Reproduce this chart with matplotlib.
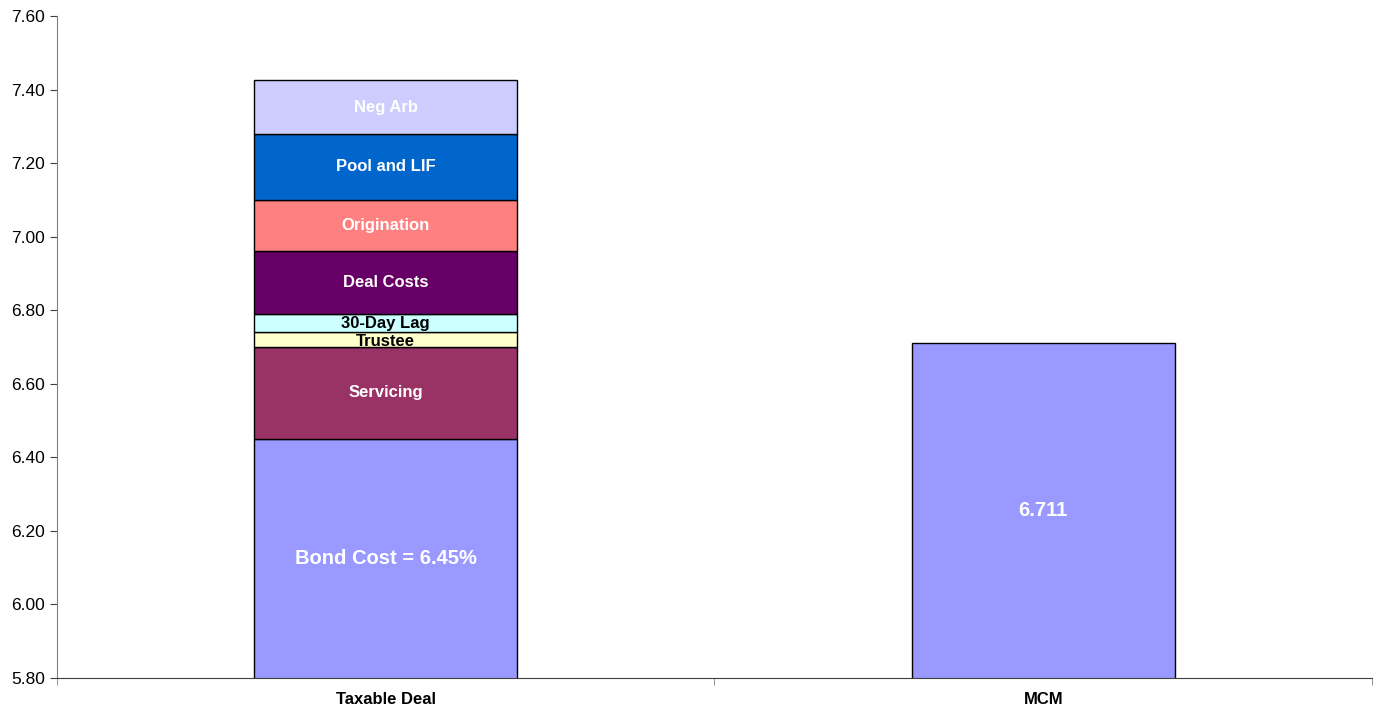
import numpy as np
import matplotlib.pyplot as plt

plt.rcParams['font.family'] = ['Liberation Sans', 'DejaVu Sans']

categories = ["Taxable Deal", "MCM"]

# stacked components of the taxable deal (percent)
seg_names = ["Bond Cost = 6.45%", "Servicing", "Trustee", "30-Day Lag",
             "Deal Costs", "Origination", "Pool and LIF", "Neg Arb"]
seg_values = [6.45, 0.25, 0.04, 0.05, 0.17, 0.14, 0.18, 0.145]
seg_colors = ["#9999FF", "#993366", "#FFFFCC", "#CCFFFF",
              "#660066", "#FF8080", "#0066CC", "#CCCCFF"]
seg_text = ["white", "white", "black", "black",
            "white", "white", "white", "white"]

mcm_value = 6.711
mcm_label = "6.711"

ymin, ymax = 5.80, 7.60

fig = plt.figure(figsize=(13.8, 7.15), dpi=100)
ax = fig.add_axes([0.0413, 0.0517, 0.9529, 0.9259])

width = 0.4
bottom = 0.0
for name, val, col, tc in zip(seg_names, seg_values, seg_colors, seg_text):
    ax.bar(0, val, width, bottom=bottom, color=col, edgecolor="black", linewidth=1.0)
    lo = max(bottom, ymin)
    hi = bottom + val
    ymid = (lo + hi) / 2
    fs = 14.5 if name.startswith("Bond") else 12
    if name == "Trustee":
        ymid -= 0.004
    ax.text(0, ymid, name, ha="center", va="center", color=tc,
            fontsize=fs, fontweight="bold")
    bottom += val

ax.bar(1, mcm_value, width, color="#9999FF", edgecolor="black", linewidth=1.0)
ax.text(1, (ymin + mcm_value) / 2, mcm_label, ha="center", va="center",
        color="white", fontsize=14.5, fontweight="bold")

ax.set_xlim(-0.5, 1.5)
ax.set_ylim(ymin, ymax)
ax.set_yticks(np.arange(5.80, 7.61, 0.20))
ax.set_yticklabels([f"{v:.2f}" for v in np.arange(5.80, 7.61, 0.20)], fontsize=12.5)
ax.set_xticks([0, 1])
ax.set_xticklabels(categories, fontsize=12, fontweight="bold")
ax.tick_params(axis="x", length=0, pad=10)
ax.set_xticks([-0.5, 0.5, 1.5], minor=True)
ax.tick_params(axis="x", which="minor", length=5, color="#808080")
ax.tick_params(axis="y", length=5, color="#404040")

for s in ["top", "right"]:
    ax.spines[s].set_visible(False)
ax.spines["left"].set_color("#808080")
ax.spines["bottom"].set_color("#404040")

fig.savefig("out.png", dpi=100)
